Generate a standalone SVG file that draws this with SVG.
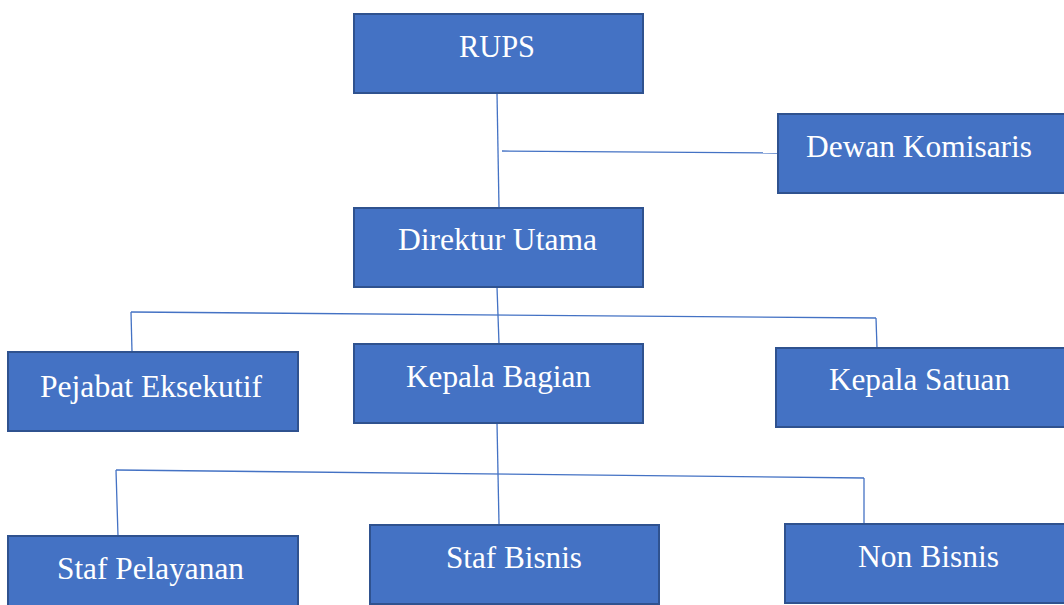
<svg xmlns="http://www.w3.org/2000/svg" width="1064" height="605" viewBox="0 0 1064 605">
<style>
.box{fill:#4472C4;stroke:#2F528F;stroke-width:2}
.ln{stroke:#4472C4;stroke-width:1.3;fill:none}
text{fill:#fff;font-family:'Liberation Serif','Times New Roman',Times,Tinos,'Noto Serif','DejaVu Serif',serif;font-size:30.5px}
</style>
<rect width="1064" height="605" fill="#fff"/>
<g id="connectors">
<line class="ln" x1="497" y1="93" x2="499" y2="208"/>
<line class="ln" x1="502" y1="151" x2="778" y2="153"/>
<line class="ln" x1="497" y1="287" x2="499" y2="344"/>
<line class="ln" x1="131" y1="312" x2="876" y2="318"/>
<line class="ln" x1="131" y1="312" x2="132" y2="352"/>
<line class="ln" x1="876" y1="318" x2="877" y2="348"/>
<line class="ln" x1="497" y1="423" x2="499" y2="524"/>
<line class="ln" x1="116" y1="470" x2="864" y2="478"/>
<line class="ln" x1="116" y1="470" x2="118" y2="536"/>
<line class="ln" x1="864" y1="478" x2="864" y2="524"/>
</g>
<g id="rups"><rect class="box" x="354" y="14" width="289" height="79"/><text x="459" y="57" textLength="76" lengthAdjust="spacingAndGlyphs">RUPS</text></g>
<g id="dewan-komisaris"><rect class="box" x="778" y="114" width="292" height="79"/><text x="806" y="157" textLength="226" lengthAdjust="spacingAndGlyphs">Dewan Komisaris</text></g>
<g id="direktur-utama"><rect class="box" x="354" y="208" width="289" height="79"/><text x="398" y="250" textLength="199" lengthAdjust="spacingAndGlyphs">Direktur Utama</text></g>
<g id="pejabat-eksekutif"><rect class="box" x="8" y="352" width="290" height="79"/><text x="40" y="397" textLength="222" lengthAdjust="spacingAndGlyphs">Pejabat Eksekutif</text></g>
<g id="kepala-bagian"><rect class="box" x="354" y="344" width="289" height="79"/><text x="406" y="387" textLength="185" lengthAdjust="spacingAndGlyphs">Kepala Bagian</text></g>
<g id="kepala-satuan"><rect class="box" x="776" y="348" width="294" height="79"/><text x="829" y="390" textLength="181" lengthAdjust="spacingAndGlyphs">Kepala Satuan</text></g>
<g id="staf-pelayanan"><rect class="box" x="8" y="536" width="290" height="79"/><text x="57" y="579" textLength="187" lengthAdjust="spacingAndGlyphs">Staf Pelayanan</text></g>
<g id="staf-bisnis"><rect class="box" x="370" y="525" width="289" height="79"/><text x="446" y="568" textLength="136" lengthAdjust="spacingAndGlyphs">Staf Bisnis</text></g>
<g id="non-bisnis"><rect class="box" x="785" y="524" width="285" height="79"/><text x="858" y="567" textLength="141" lengthAdjust="spacingAndGlyphs">Non Bisnis</text></g>
</svg>
